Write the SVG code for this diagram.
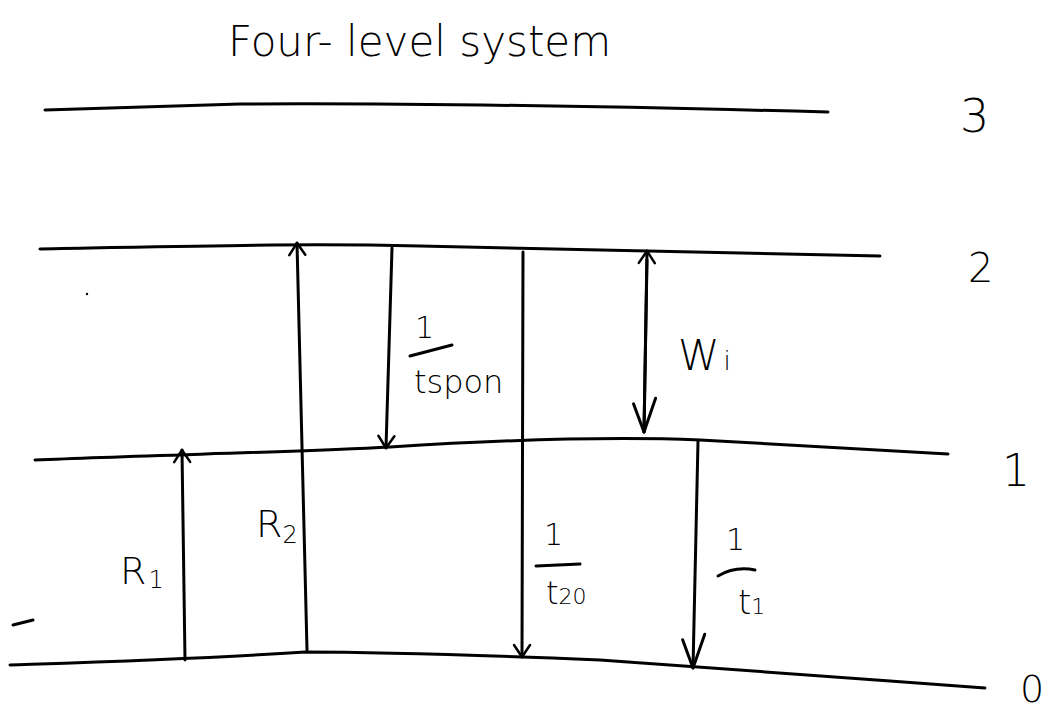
<svg xmlns="http://www.w3.org/2000/svg" width="1063" height="716" viewBox="0 0 1063 716">
<defs>
<style>
.ln{fill:none;stroke:#000;stroke-width:3;stroke-linecap:round;stroke-linejoin:round}
.tx{font-family:"DejaVu Sans","Liberation Sans",sans-serif;font-weight:300;fill:#000}
</style>
<marker id="ah" viewBox="0 0 20 20" refX="18" refY="10" markerWidth="20" markerHeight="20" markerUnits="userSpaceOnUse" orient="auto-start-reverse">
<path d="M6,2 L18,10 L6,18" fill="none" stroke="#000" stroke-width="2.5" stroke-linecap="round" stroke-linejoin="round"/>
</marker>
<marker id="ahb" viewBox="0 0 40 28" refX="38" refY="14" markerWidth="40" markerHeight="28" markerUnits="userSpaceOnUse" orient="auto-start-reverse">
<path d="M4,3 L38,14 L10,25" fill="none" stroke="#000" stroke-width="3" stroke-linecap="round" stroke-linejoin="round"/>
</marker>
</defs>
<rect width="1063" height="716" fill="#fff"/>
<text class="tx" x="228" y="56" font-size="42">Four- level system</text>
<g id="level3">
<path class="ln" d="M45,110 C120,108 180,106 240,104 C400,103 600,106 828,112"/>
<text class="tx" x="960" y="132" font-size="46">3</text>
</g>
<g id="level2">
<path class="ln" d="M40,249 C200,246 300,243 420,246 C600,249 750,252 880,256"/>
<text class="tx" x="968" y="282" font-size="40">2</text>
</g>
<g id="level1">
<path class="ln" d="M35,460 C150,455 300,452 390,447 C500,440 600,436 700,440 C800,446 900,451 948,454"/>
<text class="tx" x="1002" y="486" font-size="44">1</text>
</g>
<g id="level0">
<path class="ln" d="M10,665 C100,662 200,659 305,652 C400,652 500,656 600,660 C700,667 850,678 985,688"/>
<text class="tx" x="1020" y="702" font-size="38">0</text>
</g>
<g id="marks">
<path class="ln" d="M13,625 L33,620" stroke-width="2"/>
<circle cx="87" cy="294" r="1.2" fill="#000"/>
</g>
<g id="connectors">
<path class="ln" d="M185,660 L182,450" marker-end="url(#ah)"/>
<path class="ln" d="M307,650 L297,243" marker-end="url(#ah)"/>
<path class="ln" d="M392,248 L386,448" marker-end="url(#ah)"/>
<path class="ln" d="M523,252 L522,657" marker-end="url(#ah)"/>
<path class="ln" d="M644,432 L647,251" marker-end="url(#ah)"/>
<path class="ln" d="M647,260 L644,432" marker-end="url(#ahb)"/>
<path class="ln" d="M698,441 L693,668" marker-end="url(#ahb)"/>
</g>
<g id="label-R1"><text class="tx" x="120" y="584" font-size="38">R<tspan font-size="24" dx="2" dy="4">1</tspan></text></g>
<g id="label-R2"><text class="tx" x="256" y="537" font-size="38">R<tspan font-size="24" dy="6">2</tspan></text></g>
<g id="label-tspon">
<text class="tx" x="415" y="338" font-size="30">1</text>
<path class="ln" d="M410,356 L452,345"/>
<text class="tx" x="414" y="393" font-size="32">tspon</text>
</g>
<g id="label-Wi"><text class="tx" x="678" y="370" font-size="42">W<tspan font-size="26" dx="4">i</tspan></text></g>
<g id="label-t20">
<text class="tx" x="544" y="545" font-size="30">1</text>
<path class="ln" d="M536,566 L580,564"/>
<text class="tx" x="546" y="604" font-size="32">t<tspan font-size="22">20</tspan></text>
</g>
<g id="label-t1">
<text class="tx" x="726" y="550" font-size="30">1</text>
<path class="ln" d="M718,576 Q735,566 755,570"/>
<text class="tx" x="738" y="614" font-size="34">t<tspan font-size="22">1</tspan></text>
</g>
</svg>
